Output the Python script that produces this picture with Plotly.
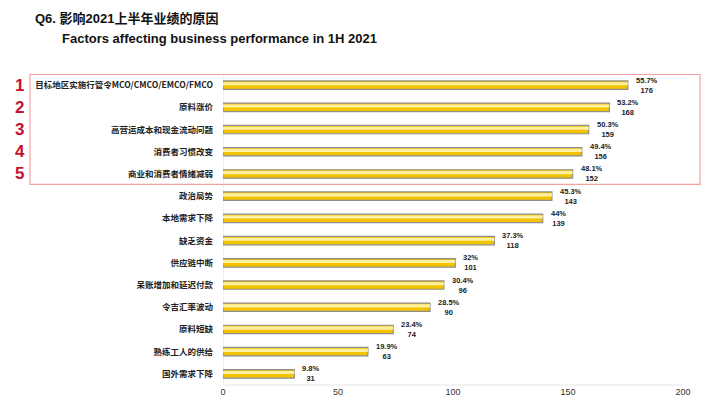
import plotly.graph_objects as go

categories = ["目标地区实施行管令MCO/CMCO/EMCO/FMCO", "原料涨价", "高营运成本和现金流动问题",
              "消费者习惯改变", "商业和消费者情绪减弱", "政治局势", "本地需求下降", "缺乏资金",
              "供应链中断", "呆账增加和延迟付款", "令吉汇率波动", "原料短缺", "熟练工人的供给", "国外需求下降"]
counts = [176, 168, 159, 156, 152, 143, 139, 118, 101, 96, 90, 74, 63, 31]
percents = ["55.7%", "53.2%", "50.3%", "49.4%", "48.1%", "45.3%", "44%", "37.3%", "32%", "30.4%",
            "28.5%", "23.4%", "19.9%", "9.8%"]
x_ticks = [0, 50, 100, 150, 200]
rank_labels = ["1", "2", "3", "4", "5"]

# page body has an 8px margin; size the figure so it fits in the window
OFF = 8
W, H = 715 - OFF, 403 - OFF
L, R, T, B = 223 - OFF, 32, 74 - OFF, 18

idx = list(range(len(categories)))
fig = go.Figure()
fig.add_trace(go.Bar(x=counts, y=idx, orientation="h", width=0.38,
                     marker=dict(color="#F3C300", line=dict(color="#8E8E8E", width=1.2)),
                     hoverinfo="skip"))
fig.add_trace(go.Bar(x=counts, y=[i - 0.06 for i in idx], orientation="h", width=0.14,
                     marker=dict(color="#FFEFA0", line=dict(width=0)), hoverinfo="skip"))

for i, (c, p) in enumerate(zip(counts, percents)):
    fig.add_annotation(x=c, y=i, text=f"<b>{p}</b><br><b>{c}</b>", xanchor="left", yanchor="middle",
                       xshift=6, showarrow=False, align="center",
                       font=dict(size=7.5, color="#222", family="Liberation Sans, Arial"))

def px_x(px):
    return (px - OFF - L) / (W - L - R)

def px_y(py):
    return 1 - (py - OFF - T) / (H - T - B)

for i, r in enumerate(rank_labels):
    fig.add_annotation(x=px_x(13), xref="paper", y=i, text=f"<b>{r}</b>", showarrow=False,
                       font=dict(size=17, color="#C8102E", family="Liberation Sans, Arial"))

fig.add_shape(type="rect", xref="paper", yref="y", x0=px_x(30), x1=px_x(700),
              y0=-0.48, y1=4.47, line=dict(color="#F4A0A0", width=1.2))

title_font = dict(size=13, color="#111", family="Liberation Sans, Noto Sans CJK SC")
fig.add_annotation(x=px_x(33), y=px_y(18), xref="paper", yref="paper",
                   text="<b>Q6. 影响2021上半年业绩的原因</b>", showarrow=False,
                   xanchor="left", yanchor="middle", font=title_font)
fig.add_annotation(x=px_x(60), y=px_y(38), xref="paper", yref="paper",
                   text="<b>Factors affecting business performance in 1H 2021</b>", showarrow=False,
                   xanchor="left", yanchor="middle", font=title_font)

fig.update_layout(
    width=W, height=H,
    margin=dict(l=L, r=R, t=T, b=B),
    paper_bgcolor="white", plot_bgcolor="white",
    showlegend=False, barmode="overlay",
    xaxis=dict(range=[0, 200], tickvals=x_ticks, showgrid=False, zeroline=False, automargin=False,
               showline=False, ticks="", tickfont=dict(size=9, color="#333", family="Liberation Sans, Arial")),
    yaxis=dict(range=[13.5, -0.5], tickvals=idx, ticktext=[f"<b>{c}</b>" for c in categories],
               showgrid=False, zeroline=False, ticks="", ticklabelstandoff=9, automargin=False,
               tickfont=dict(size=8.5, color="#222", family="Noto Sans CJK SC, Liberation Sans")),
)
fig.add_shape(type="line", xref="x", yref="paper", x0=0, x1=0, y0=0, y1=1,
              line=dict(color="#E6E6E6", width=1), layer="below")
fig.add_shape(type="line", xref="x", yref="paper", x0=0, x1=200, y0=0, y1=0,
              line=dict(color="#E6E6E6", width=1), layer="below")

fig.write_html("out.html")
